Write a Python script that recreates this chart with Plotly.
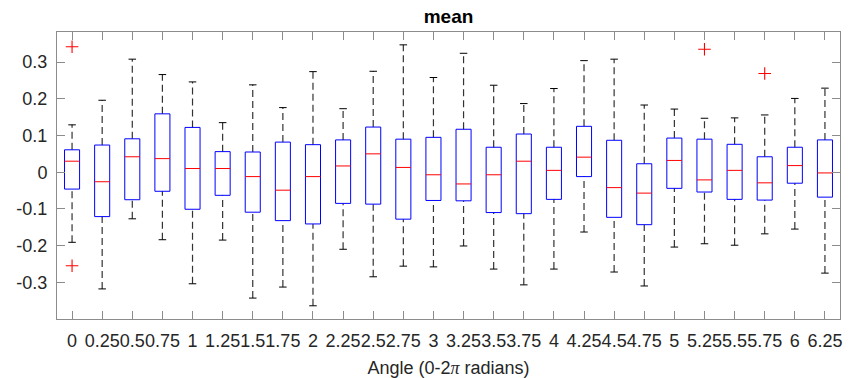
import plotly.graph_objects as go

# Angle positions (multiples of 0.25, in units of 0-2π radians)
angles = ["0", "0.25", "0.5", "0.75", "1", "1.25", "1.5", "1.75", "2", "2.25",
          "2.5", "2.75", "3", "3.25", "3.5", "3.75", "4", "4.25", "4.5", "4.75",
          "5", "5.25", "5.5", "5.75", "6", "6.25"]

# Box statistics for each angle
upper_whisker = [0.129, 0.196, 0.308, 0.266, 0.246, 0.135, 0.238, 0.176, 0.274, 0.173,
                 0.275, 0.347, 0.258, 0.324, 0.237, 0.187, 0.228, 0.304, 0.308, 0.183,
                 0.172, 0.147, 0.148, 0.156, 0.201, 0.229]
q3 = [0.061, 0.074, 0.091, 0.159, 0.122, 0.056, 0.055, 0.082, 0.075, 0.088,
      0.123, 0.090, 0.095, 0.117, 0.068, 0.104, 0.068, 0.125, 0.087, 0.023,
      0.093, 0.090, 0.076, 0.042, 0.068, 0.088]
median = [0.030, -0.026, 0.042, 0.037, 0.010, 0.010, -0.012, -0.049, -0.012, 0.017,
          0.050, 0.013, -0.007, -0.032, -0.007, 0.030, 0.005, 0.041, -0.042, -0.057,
          0.032, -0.021, 0.005, -0.029, 0.018, -0.002]
q1 = [-0.046, -0.121, -0.075, -0.052, -0.101, -0.063, -0.109, -0.132, -0.141, -0.085,
      -0.087, -0.128, -0.077, -0.078, -0.110, -0.113, -0.074, -0.012, -0.123, -0.143,
      -0.044, -0.054, -0.074, -0.076, -0.030, -0.068]
lower_whisker = [-0.191, -0.318, -0.127, -0.184, -0.304, -0.185, -0.343, -0.313, -0.364, -0.210,
                 -0.285, -0.256, -0.258, -0.201, -0.264, -0.307, -0.264, -0.163, -0.272, -0.310,
                 -0.204, -0.195, -0.199, -0.168, -0.155, -0.275]

# Outliers: (angle index, value)
outlier_idx = [0, 0, 21, 23]
outlier_val = [0.342, -0.255, 0.335, 0.269]

y_ticks = [-0.3, -0.2, -0.1, 0, 0.1, 0.2, 0.3]
y_tick_text = ["-0.3", "-0.2", "-0.1", "0", "0.1", "0.2", "0.3"]

BOX_HALF = 0.25
CAP_HALF = 0.125
AXIS_GREY = "#8c8c8c"
TEXT = "#262626"
FONT = "Liberation Sans, Arial, sans-serif"

positions = list(range(1, len(angles) + 1))

wx, wy = [], []      # dashed whiskers
cx, cy = [], []      # whisker caps
bx, by = [], []      # box outlines
mx, my = [], []      # medians
for p, hi, u, m, l, lo in zip(positions, upper_whisker, q3, median, q1, lower_whisker):
    wx += [p, p, None, p, p, None]
    wy += [u, hi, None, lo, l, None]
    cx += [p - CAP_HALF, p + CAP_HALF, None, p - CAP_HALF, p + CAP_HALF, None]
    cy += [hi, hi, None, lo, lo, None]
    bx += [p - BOX_HALF, p + BOX_HALF, p + BOX_HALF, p - BOX_HALF, p - BOX_HALF, None]
    by += [l, l, u, u, l, None]
    mx += [p - BOX_HALF, p + BOX_HALF, None]
    my += [m, m, None]

fig = go.Figure()
fig.add_trace(go.Scatter(x=wx, y=wy, mode="lines", hoverinfo="skip",
                         line=dict(color="#333333", width=1.2, dash="7px,4px")))
fig.add_trace(go.Scatter(x=cx, y=cy, mode="lines", hoverinfo="skip",
                         line=dict(color="#000000", width=1)))
fig.add_trace(go.Scatter(x=bx, y=by, mode="lines", hoverinfo="skip",
                         line=dict(color="#0000ff", width=1)))
fig.add_trace(go.Scatter(x=mx, y=my, mode="lines", hoverinfo="skip",
                         line=dict(color="#ff0000", width=1)))
fig.add_trace(go.Scatter(x=[positions[i] for i in outlier_idx], y=outlier_val,
                         mode="markers", hoverinfo="skip",
                         marker=dict(symbol="cross-thin", size=9,
                                     line=dict(color="#ff0000", width=1.1))))

fig.update_layout(
    width=852, height=378,
    margin=dict(l=57, r=12, t=32, b=59),
    paper_bgcolor="white", plot_bgcolor="white",
    showlegend=False,
    font=dict(family=FONT, size=18, color=TEXT),
    title=dict(text="<b>mean</b>", x=(57 + 840) / 2 / 852, xanchor="center",
               xref="container", yref="container", y=1 - 16.5 / 378, yanchor="middle",
               font=dict(family=FONT, size=19, color="#000000")),
)
fig.update_xaxes(
    range=[0.5, len(angles) + 0.5], automargin=False,
    tickmode="array", tickvals=positions, ticktext=angles, tickangle=0,
    ticks="inside", ticklen=8, tickcolor=AXIS_GREY, tickwidth=1,
    showline=True, linecolor=AXIS_GREY, linewidth=1, mirror="ticks",
    showgrid=False, zeroline=False, ticklabelstandoff=5,
    tickfont=dict(family=FONT, size=18, color=TEXT),
    title=dict(text="Angle (0-2<span style=\"font-family:'Liberation Serif'\"><i>π</i></span> radians)",
               font=dict(family=FONT, size=18, color=TEXT), standoff=12),
)
fig.update_yaxes(
    range=[-0.4, 0.382], automargin=False,
    tickmode="array", tickvals=y_ticks, ticktext=y_tick_text,
    ticks="inside", ticklen=8, tickcolor=AXIS_GREY, tickwidth=1,
    showline=True, linecolor=AXIS_GREY, linewidth=1, mirror="ticks",
    showgrid=False, zeroline=False, ticklabelstandoff=5,
    tickfont=dict(family=FONT, size=18, color=TEXT),
)

fig.write_html("out.html")
